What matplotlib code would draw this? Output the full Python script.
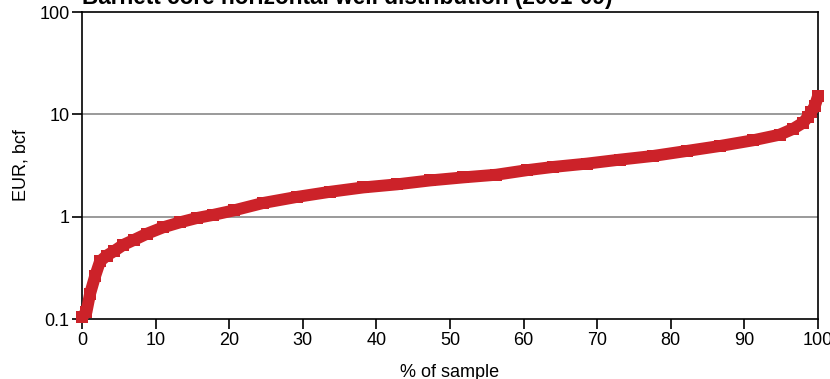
import matplotlib.pyplot as plt
from matplotlib.ticker import FixedLocator, FixedFormatter, NullLocator

# values
pct = [0, 0.6, 1.1, 1.8, 2.45, 3.35, 4.3, 5.6, 7.0, 8.8, 11.0, 13.3, 15.6, 17.8, 20.6,
       24.6, 29.2, 33.7, 38.2, 42.8, 47.3, 51.8, 56.3, 60.5, 64, 68.6, 73.1, 77.6,
       82.2, 86.7, 91.2, 94.8, 96.6, 98, 98.6, 99.1, 99.6, 100]
eur = [0.105, 0.117, 0.177, 0.265, 0.366, 0.416, 0.458, 0.53, 0.59, 0.68, 0.786, 0.88,
       0.97, 1.04, 1.15, 1.36, 1.56, 1.75, 1.93, 2.07, 2.26, 2.42, 2.57, 2.85, 3.06,
       3.3, 3.61, 3.92, 4.39, 4.91, 5.58, 6.33, 7.2, 8.3, 9.4, 10.6, 12.2, 15]

title = 'Barnett core horizontal well distribution (2001-09)'
ytick_vals = [0.1, 1, 10, 100]
ytick_labels = ['0.1', '1', '10', '100']
xtick_vals = list(range(0, 101, 10))

plt.rcParams['font.family'] = ['Liberation Sans', 'DejaVu Sans']

fig = plt.figure(figsize=(8.3, 3.79), dpi=100)
ax = fig.add_axes([0.0988, 0.1583, 0.8867, 0.81])

red = '#cc2229'
ax.plot(pct, eur, color=red, linewidth=8.6, marker='s', markersize=8.6,
        markeredgewidth=0, solid_capstyle='butt', zorder=3, clip_on=False)

ax.set_yscale('log')
ax.set_ylim(0.1, 100)
ax.set_xlim(0, 100)
ax.yaxis.set_major_locator(FixedLocator(ytick_vals))
ax.yaxis.set_major_formatter(FixedFormatter(ytick_labels))
ax.yaxis.set_minor_locator(NullLocator())
ax.set_xticks(xtick_vals)

for v in [1, 10]:
    ax.axhline(v, color='#7f7f7f', linewidth=1.1, zorder=1)

for s in ax.spines.values():
    s.set_linewidth(1.2)
ax.tick_params(direction='out', length=7, width=1.2, labelsize=13, pad=2)

ax.set_ylabel('EUR, bcf', fontsize=13, labelpad=7)
ax.set_xlabel('% of sample', fontsize=13, labelpad=11)

fig.text(0.0988, 1 - 4 / 379, title, fontsize=16.3, fontweight='bold', va='baseline', ha='left')

fig.savefig('out.png', dpi=100)
